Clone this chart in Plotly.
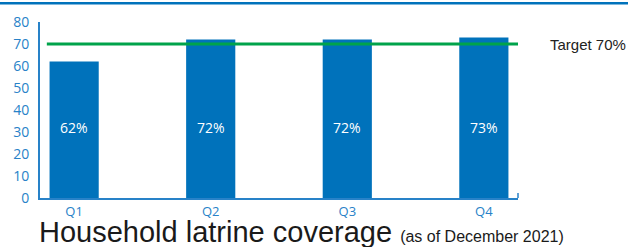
import plotly.graph_objects as go

categories = ["Q1", "Q2", "Q3", "Q4"]
coverage = [62, 72, 72, 73]
bar_labels = ["62%", "72%", "72%", "73%"]
target = 70
target_label = "Target 70%"
y_ticks = [0, 10, 20, 30, 40, 50, 60, 70, 80]

BAR = "rgb(0,114,187)"
AXIS = "rgb(40,130,200)"
GREEN = "rgb(0,163,75)"

fig = go.Figure()
fig.add_trace(go.Bar(x=[0, 1, 2, 3], y=coverage, marker=dict(color=BAR, line=dict(width=0)),
                     width=0.36, hoverinfo="skip"))

# labels inside the bars
for i, lab in enumerate(bar_labels):
    fig.add_annotation(x=i, y=32, text=lab, showarrow=False,
                       font=dict(family="Open Sans", size=14, color="white"))

# target line
fig.add_shape(type="line", xref="x", yref="y", x0=-0.2, x1=3.28, y0=target, y1=target,
              line=dict(color=GREEN, width=3))
fig.add_annotation(xref="paper", yref="y", x=1 + 30/478, y=target, xanchor="left",
                   text=target_label, showarrow=False,
                   font=dict(family="Liberation Sans", size=15, color="#222"))

# small end tick on the x axis
fig.add_shape(type="line", xref="paper", yref="paper", x0=1, x1=1, y0=0, y1=5/179,
              line=dict(color=AXIS, width=1.5))

# top blue rule
fig.add_shape(type="line", xref="paper", yref="paper", x0=-40/478, x1=1 + 110/478,
              y0=1 + 19/179, y1=1 + 19/179, line=dict(color=BAR, width=2.5))

# title
fig.add_annotation(xref="paper", yref="paper", x=-3/478, y=-(233-198)/179,
                   xanchor="left", yanchor="middle", showarrow=False,
                   text="Household latrine coverage <span style='font-size:16px'>(as of December 2021)</span>",
                   font=dict(family="Liberation Sans", size=29, color="#1a1a1a"))

fig.update_layout(
    width=628, height=247,
    margin=dict(l=40, r=110, t=19, b=49),
    paper_bgcolor="white", plot_bgcolor="white",
    showlegend=False,
    xaxis=dict(range=[-0.25, 3.25], tickvals=[0, 1, 2, 3], ticktext=categories,
               showgrid=False, zeroline=False, showline=True, linecolor=AXIS, linewidth=2,
               ticks="", ticklabelstandoff=0,
               tickfont=dict(family="Open Sans", size=13, color=AXIS)),
    yaxis=dict(range=[0, 80], tickvals=y_ticks, showgrid=False, zeroline=False,
               showline=True, linecolor=AXIS, linewidth=2, ticks="", ticklabelstandoff=6,
               tickfont=dict(family="Open Sans", size=14, color=AXIS)),
)

fig.write_html("out.html", config={"displayModeBar": False},
               post_script="document.body.style.margin='0';document.body.style.padding='0';")
